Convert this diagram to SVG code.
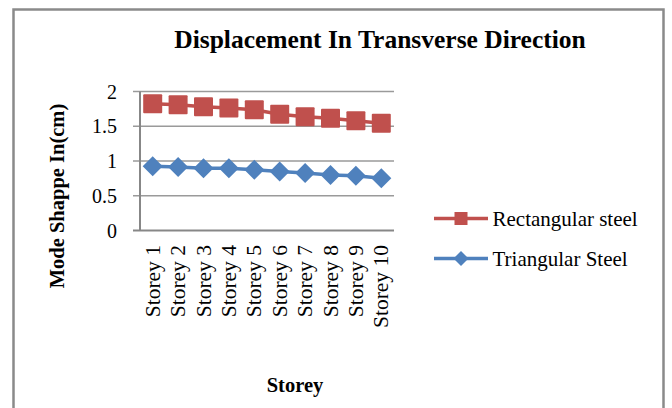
<svg xmlns="http://www.w3.org/2000/svg" xmlns:xlink="http://www.w3.org/1999/xlink" width="672" height="408" viewBox="0 0 672 408">
  <style>
    .frame { fill: #ffffff; stroke: #8a8a8a; stroke-width: 2.5; }
    .grid { stroke: #9a9a9a; stroke-width: 1.5; fill: none; }
    .axis { stroke: #878787; stroke-width: 2; fill: none; }
    .t { font-family: "Liberation Serif", "Times New Roman", serif; fill: #000; }
    .tick { font-size: 20px; text-anchor: end; }
    .cat { font-size: 21.5px; text-anchor: end; }
    .title { font-size: 25.5px; font-weight: bold; text-anchor: middle; }
    .atitle { font-size: 20.5px; font-weight: bold; text-anchor: middle; }
    .leg { font-size: 21px; }
    .red-line { stroke: #C0504D; stroke-width: 3.5; fill: none; stroke-linejoin: round; }
    .blue-line { stroke: #4F81BD; stroke-width: 3.5; fill: none; stroke-linejoin: round; }
    .red { fill: #C0504D; }
    .blue { fill: #4F81BD; }
  </style>
  <defs>
    <rect id="sq" x="-9.5" y="-9.5" width="19" height="19" rx="1"/>
    <polygon id="dia" points="0,-10 10,0 0,10 -10,0"/>
    <rect id="sq-s" x="-6.5" y="-6.5" width="13" height="13"/>
    <polygon id="dia-s" points="0,-7.5 7.5,0 0,7.5 -7.5,0"/>
  </defs>

  <!-- chart frame -->
  <rect class="frame" x="13.5" y="9.5" width="650" height="410"/>

  <!-- title -->
  <text class="t title" x="380" y="48">Displacement In Transverse Direction</text>

  <!-- gridlines and axes -->
  <g id="axes">
    <line class="grid" x1="133" y1="91.5" x2="394" y2="91.5"/>
    <line class="grid" x1="133" y1="126.25" x2="394" y2="126.25"/>
    <line class="grid" x1="133" y1="161" x2="394" y2="161"/>
    <line class="grid" x1="133" y1="195.75" x2="394" y2="195.75"/>
    <line class="axis" x1="133" y1="230.5" x2="394" y2="230.5"/>
    <line class="axis" x1="140" y1="91.5" x2="140" y2="230.5"/>
  </g>

  <!-- value axis labels -->
  <g id="y-labels">
    <text class="t tick" x="117" y="98.5">2</text>
    <text class="t tick" x="117" y="133.25">1.5</text>
    <text class="t tick" x="117" y="168">1</text>
    <text class="t tick" x="117" y="202.75">0.5</text>
    <text class="t tick" x="117" y="237.5">0</text>
  </g>
  <text class="t atitle" transform="translate(64,196) rotate(-90)">Mode Shappe In(cm)</text>

  <!-- category labels -->
  <g id="x-labels">
    <text class="t cat" transform="translate(159.8,245) rotate(-90)">Storey 1</text>
    <text class="t cat" transform="translate(185.2,245) rotate(-90)">Storey 2</text>
    <text class="t cat" transform="translate(210.6,245) rotate(-90)">Storey 3</text>
    <text class="t cat" transform="translate(236,245) rotate(-90)">Storey 4</text>
    <text class="t cat" transform="translate(261.4,245) rotate(-90)">Storey 5</text>
    <text class="t cat" transform="translate(286.8,245) rotate(-90)">Storey 6</text>
    <text class="t cat" transform="translate(312.2,245) rotate(-90)">Storey 7</text>
    <text class="t cat" transform="translate(337.6,245) rotate(-90)">Storey 8</text>
    <text class="t cat" transform="translate(363,245) rotate(-90)">Storey 9</text>
    <text class="t cat" transform="translate(388.4,245) rotate(-90)">Storey 10</text>
  </g>
  <text class="t atitle" x="295" y="392">Storey</text>

  <!-- series lines -->
  <g id="connectors">
    <polyline class="red-line" points="152.7,103.7 178.1,104.7 203.5,106.7 228.9,108 254.3,109.7 279.7,114.3 305.1,116.7 330.5,118.3 355.9,120.7 381.3,123.3"/>
    <polyline class="blue-line" points="152.7,166.3 178.1,167 203.5,168.3 228.9,168.3 254.3,169.7 279.7,171.5 305.1,173 330.5,175 355.9,175.7 381.3,178.3"/>
  </g>

  <!-- Rectangular steel markers -->
  <g id="rect-steel" class="red">
    <use xlink:href="#sq" x="152.7" y="103.7"/>
    <use xlink:href="#sq" x="178.1" y="104.7"/>
    <use xlink:href="#sq" x="203.5" y="106.7"/>
    <use xlink:href="#sq" x="228.9" y="108"/>
    <use xlink:href="#sq" x="254.3" y="109.7"/>
    <use xlink:href="#sq" x="279.7" y="114.3"/>
    <use xlink:href="#sq" x="305.1" y="116.7"/>
    <use xlink:href="#sq" x="330.5" y="118.3"/>
    <use xlink:href="#sq" x="355.9" y="120.7"/>
    <use xlink:href="#sq" x="381.3" y="123.3"/>
  </g>

  <!-- Triangular steel markers -->
  <g id="tri-steel" class="blue">
    <use xlink:href="#dia" x="152.7" y="166.3"/>
    <use xlink:href="#dia" x="178.1" y="167"/>
    <use xlink:href="#dia" x="203.5" y="168.3"/>
    <use xlink:href="#dia" x="228.9" y="168.3"/>
    <use xlink:href="#dia" x="254.3" y="169.7"/>
    <use xlink:href="#dia" x="279.7" y="171.5"/>
    <use xlink:href="#dia" x="305.1" y="173"/>
    <use xlink:href="#dia" x="330.5" y="175"/>
    <use xlink:href="#dia" x="355.9" y="175.7"/>
    <use xlink:href="#dia" x="381.3" y="178.3"/>
  </g>

  <!-- legend -->
  <g id="legend-rect">
    <line class="red-line" x1="434" y1="218.5" x2="488" y2="218.5"/>
    <use class="red" xlink:href="#sq-s" x="461" y="218.5"/>
    <text class="t leg" x="492.5" y="225.5">Rectangular steel</text>
  </g>
  <g id="legend-tri">
    <line class="blue-line" x1="434" y1="258.5" x2="488" y2="258.5"/>
    <use class="blue" xlink:href="#dia-s" x="461" y="258.5"/>
    <text class="t leg" x="492.5" y="265.5">Triangular Steel</text>
  </g>
</svg>
